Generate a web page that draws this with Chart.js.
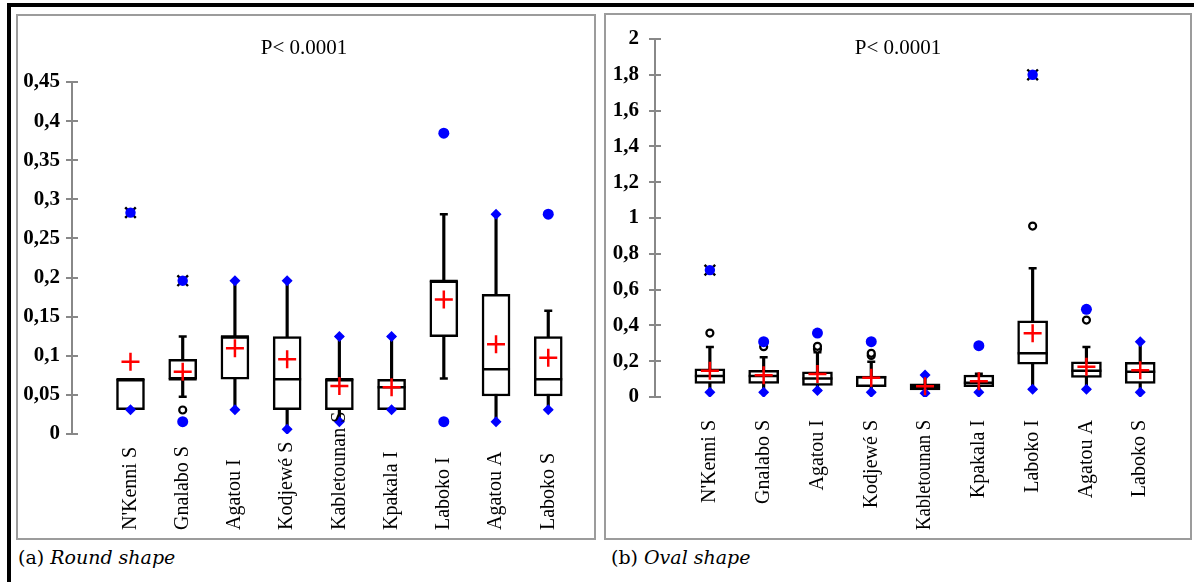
<!DOCTYPE html>
<html><head><meta charset="utf-8">
<script src="https://cdn.jsdelivr.net/npm/chart.js@4.4.1/dist/chart.umd.min.js"></script>
<style>
html,body{margin:0;padding:0;background:#fff;width:1194px;height:582px;overflow:hidden;position:relative}
#frame{position:absolute;left:7px;top:3px;width:1200px;height:600px;border-top:4px solid #000;border-left:4px solid #000}
.panel{position:absolute;border:2px solid #9c9c9c;box-sizing:border-box}
#pa{left:16px;top:14px;width:580px;height:526px}
#pb{left:604px;top:13px;width:588px;height:527px}
canvas{position:absolute}
#ca{left:18px;top:16px}
#cb{left:606px;top:15px}
.cap{position:absolute;font-family:"DejaVu Serif",serif;font-size:19px;line-height:22px;color:#000;top:546px}
</style></head>
<body>
<div id="frame"></div>
<div class="panel" id="pa"></div>
<div class="panel" id="pb"></div>
<canvas id="ca" width="576" height="522"></canvas>
<canvas id="cb" width="584" height="523"></canvas>
<div class="cap" style="left:18px">(a) <i>Round shape</i></div>
<div class="cap" style="left:611px">(b) <i>Oval shape</i></div>
<script>
// ---------- data ----------
const categories = ["N'Kenni S","Gnalabo S","Agatou I","Kodjewé S","Kabletounan S","Kpakala I","Laboko I","Agatou A","Laboko S"];
const titleText = "P< 0.0001";

// (a) Round shape
const yTicksA = ['0','0,05','0,1','0,15','0,2','0,25','0,3','0,35','0,4','0,45'];
const q1A      = [0.031, 0.070, 0.070, 0.031, 0.031, 0.031, 0.1245, 0.0486, 0.0486];
const medA     = [0.070, 0.070, 0.1245, 0.070, 0.070, 0.0597, 0.1957, 0.0827, 0.070];
const q3A      = [0.070, 0.0955, 0.1245, 0.1245, 0.070, 0.070, 0.1957, 0.1786, 0.1245];
const whiskLoA = [0.031, 0.0477, 0.031, 0.006, 0.0158, 0.031, 0.0708, 0.0158, 0.031];
const whiskHiA = [0.070, 0.1245, 0.196, 0.196, 0.1245, 0.1245, 0.281, 0.281, 0.1577];
const meanA    = [0.0925, 0.0797, 0.1096, 0.0955, 0.0614, 0.0597, 0.172, 0.1147, 0.0976];
const minDiaA  = [0.031, null, 0.031, 0.006, 0.0158, 0.031, null, 0.0158, 0.031];
const maxDiaA  = [null, null, 0.196, 0.196, 0.1245, 0.1245, null, 0.281, null];
const minCirA  = [null, 0.0158, null, null, null, null, 0.0158, null, null];
const maxCirA  = [null, null, null, null, null, null, 0.3845, null, 0.281];
const outA     = [null, 0.0307, null, null, null, null, null, null, null];
const out2A    = [null, null, null, null, null, null, null, null, null];
const extA     = [0.283, 0.196, null, null, null, null, null, null, null];

// (b) Oval shape
const yTicksB = ['0','0,2','0,4','0,6','0,8','1','1,2','1,4','1,6','1,8','2'];
const q1B      = [0.076, 0.076, 0.065, 0.058, 0.039, 0.058, 0.183, 0.110, 0.076];
const medB     = [0.117, 0.117, 0.104, 0.110, 0.055, 0.080, 0.244, 0.147, 0.141];
const q3B      = [0.158, 0.149, 0.141, 0.117, 0.073, 0.123, 0.426, 0.197, 0.194];
const whiskLoB = [0.026, 0.026, 0.037, 0.026, 0.021, 0.026, 0.043, 0.043, 0.026];
const whiskHiB = [0.279, 0.222, 0.250, 0.197, 0.123, 0.130, 0.719, 0.279, 0.309];
const meanB    = [0.147, 0.121, 0.128, 0.108, 0.060, 0.088, 0.356, 0.169, 0.150];
const minDiaB  = [0.026, 0.026, 0.037, 0.026, 0.021, 0.026, 0.043, 0.043, 0.026];
const maxDiaB  = [null, null, null, null, 0.123, null, null, null, 0.309];
const minCirB  = [null, null, null, null, null, null, null, null, null];
const maxCirB  = [null, 0.309, 0.357, 0.309, null, 0.287, null, 0.490, null];
const outB     = [0.357, 0.281, 0.283, 0.244, null, null, 0.955, 0.430, null];
const out2B    = [null, null, 0.268, 0.232, null, null, null, null, null];
const extB     = [0.709, null, null, null, null, null, 1.80, null, null];

// ---------- helpers ----------
const BLUE = '#0000ff', RED = '#ff0000';
const pts = arr => arr.map((v,i)=> v==null?null:{x:i,y:v}).filter(Boolean);
const bars = (lo,hi) => lo.map((v,i)=>({x:i,y:[v,hi[i]]}));
function pset(data, style, r, bg, bc, bw, order){
  return {type:'scatter', data, showLine:false, pointStyle:style, pointRadius:r, pointHoverRadius:r,
    pointBackgroundColor:bg, pointBorderColor:bc, pointBorderWidth:bw, order};
}
function datasets(d){
  return [
    {type:'bar', data:bars(d.lo,d.hi), backgroundColor:'#000', borderWidth:0, barThickness:2.5, grouped:false, order:20},
    {type:'bar', data:bars(d.q1,d.q3), backgroundColor:'#fff', borderColor:'#000', borderWidth:2.5, borderSkipped:false, barThickness:d.boxW, grouped:false, order:19},
    pset(pts(d.med),'line',d.boxW/2,'#000','#000',2.5,18),
    pset(pts(d.lo),'line',4,'#000','#000',2.5,18),
    pset(pts(d.hi),'line',4,'#000','#000',2.5,18),
    pset(pts(d.out),'circle',3.5,'#fff','#000',2.2,15),
    pset(pts(d.out2),'circle',3.5,'#fff','#000',2.2,16),
    pset(pts(d.ext),'crossRot',7.5,'#000','#000',2.4,14),
    pset(pts(d.ext),'circle',5.2,BLUE,BLUE,0,13),
    pset(pts(d.minDia),'rectRot',5.5,BLUE,BLUE,0,12),
    pset(pts(d.maxDia),'rectRot',5.5,BLUE,BLUE,0,12),
    pset(pts(d.minCir),'circle',5.5,BLUE,BLUE,0,12),
    pset(pts(d.maxCir),'circle',5.5,BLUE,BLUE,0,12),
    pset(pts(d.mean),'cross',9,RED,RED,2.5,1)
  ];
}

const panelText = {
  id:'panelText',
  afterDraw(chart, args, o){
    const ctx = chart.ctx, xs = chart.scales.x;
    ctx.save();
    ctx.fillStyle = '#000';
    ctx.font = '21px "Liberation Serif"';
    ctx.textAlign = 'center'; ctx.textBaseline = 'middle';
    ctx.fillText(o.title, o.titleX, o.titleY);
    ctx.font = '20px "Liberation Serif"';
    o.labels.forEach((lab,i)=>{
      const x = xs.getPixelForValue(i);
      ctx.save();
      ctx.translate(x, o.labelY);
      ctx.rotate(-Math.PI/2);
      ctx.textAlign = o.labelAlign;
      ctx.textBaseline = 'middle';
      ctx.fillText(lab, 0, 0, o.maxLen);
      ctx.restore();
    });
    ctx.restore();
  }
};

function makeChart(id, d){
  const step = d.yMax/(d.yTicks.length-1);
  return new Chart(document.getElementById(id), {
    type:'bar',
    data:{datasets:datasets(d)},
    plugins:[panelText],
    options:{
      responsive:false, animation:false, events:[],
      layout:{padding:{left:0, top:d.padTop, right:d.padRight, bottom:d.padBottom}},
      plugins:{legend:{display:false}, tooltip:{enabled:false},
        panelText:{title:titleText, titleX:d.titleX, titleY:d.titleY, labels:categories, labelY:d.labelY, labelAlign:d.labelAlign, maxLen:d.maxLen}},
      scales:{
        x:{type:'linear', display:false, min:d.xMin, max:d.xMax, bounds:'data', offset:false},
        y:{type:'linear', position:'left', min:0, max:d.yMax, bounds:'data',
           afterFit(s){ s.width = d.yW; },
           ticks:{stepSize:step, padding:d.tickPad, color:'#000',
             font:{family:'"Liberation Serif"', size:21, weight:'bold'},
             callback:(v)=> d.yTicks[Math.round(v/step)] },
           grid:{drawOnChartArea:false, drawTicks:true, tickLength:6, color:'#888', lineWidth:2},
           border:{display:true, color:'#888', width:2}},
        yIn:{type:'linear', axis:'y', position:{x:d.xMin}, min:0, max:d.yMax, bounds:'data',
           ticks:{display:false, stepSize:step},
           grid:{drawOnChartArea:false, drawTicks:true, tickLength:-6, color:'#888', lineWidth:2},
           border:{display:false}}
      }
    }
  });
}

makeChart('ca', {q1:q1A, med:medA, q3:q3A, lo:whiskLoA, hi:whiskHiA, mean:meanA,
  minDia:minDiaA, maxDia:maxDiaA, minCir:minCirA, maxCir:maxCirA, out:outA, out2:out2A, ext:extA,
  yTicks:yTicksA, yMax:0.45, boxW:28, xMin:-1.12, xMax:8.56, yW:54, tickPad:6,
  padTop:66, padRight:4, padBottom:104, titleX:286, titleY:32, labelY:514, labelAlign:'left', maxLen:130});

makeChart('cb', {q1:q1B, med:medB, q3:q3B, lo:whiskLoB, hi:whiskHiB, mean:meanB,
  minDia:minDiaB, maxDia:maxDiaB, minCir:minCirB, maxCir:maxCirB, out:outB, out2:out2B, ext:extB,
  yTicks:yTicksB, yMax:2, boxW:30, xMin:-1.02, xMax:8.6, yW:49, tickPad:10,
  padTop:24, padRight:6, padBottom:141, titleX:292, titleY:33, labelY:405, labelAlign:'right', maxLen:110});
</script>
</body></html>
